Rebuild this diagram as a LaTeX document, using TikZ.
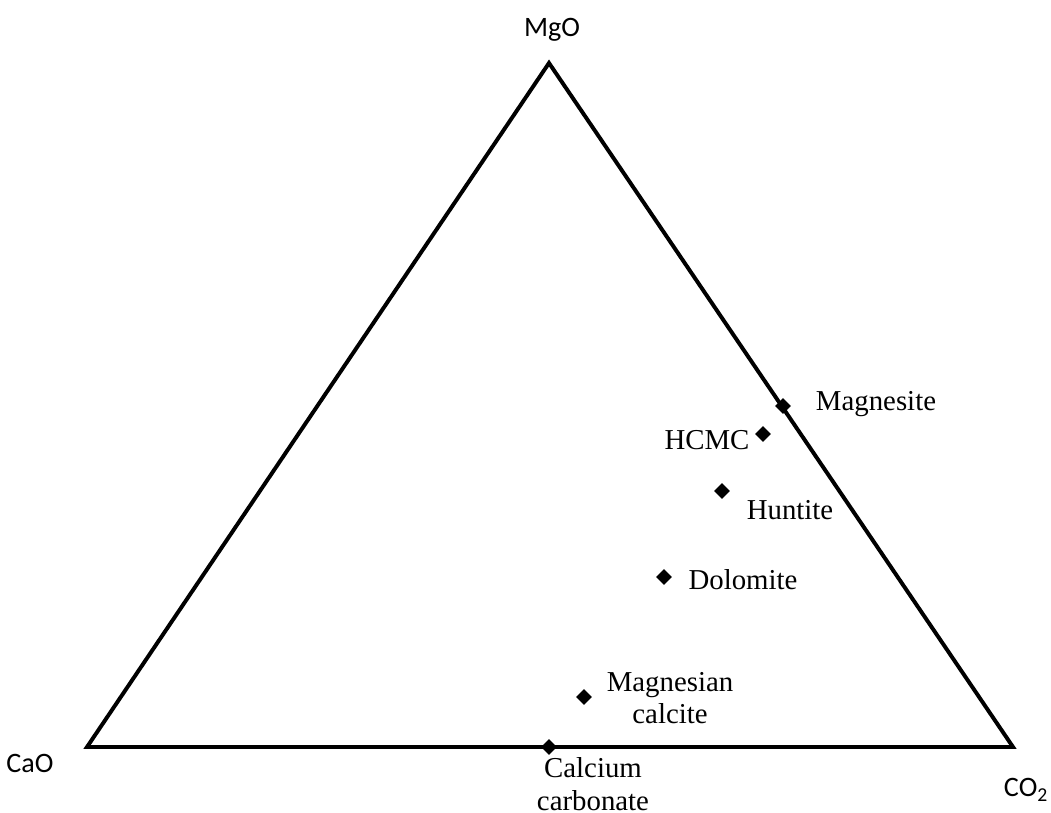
\documentclass[tikz,border=0pt]{standalone}
\usepackage{fontspec}
\setmainfont{Liberation Serif}
\setsansfont{Carlito}
\usetikzlibrary{shapes.geometric}

\begin{document}
\begin{tikzpicture}[x=0.025cm, y=-0.025cm,
    corner/.style={font=\sffamily\fontsize{20}{24}\selectfont},
    mineral/.style={fill=black, diamond, inner sep=0pt, minimum width=0.4cm, minimum height=0.4cm},
    lbl/.style={font=\fontsize{20.5}{23}\selectfont, align=center, inner sep=1pt},
    edge/.style={line width=2.8pt, line join=miter}
]
    \useasboundingbox (0,0) rectangle (1051,812);

    % corners of the ternary plot
    \coordinate (cao) at (87,747);
    \coordinate (co2) at (1013,747);
    \coordinate (mgo) at (549,63);
    \draw[edge] (cao) -- (co2) -- (mgo) -- cycle;

    \node[corner] (lmgo) at (552,30) {MgO};
    \node[corner] (lcao) at (30,763) {CaO};
    \node[corner] (lco2) at (1026,790) {CO\textsubscript{2}};

    % minerals
    \node[mineral] (magnesite) at (783,406) {};
    \node[mineral] (hcmc) at (763,434) {};
    \node[mineral] (huntite) at (722,491) {};
    \node[mineral] (dolomite) at (664,577) {};
    \node[mineral] (magcalc) at (584,697) {};
    \node[mineral] (caco3) at (549,747) {};

    \node[lbl] at (876,404) {Magnesite};
    \node[lbl] at (707,440) {HCMC};
    \node[lbl] at (790,510) {Huntite};
    \node[lbl] at (743,580) {Dolomite};
    \node[lbl] at (670,698) {Magnesian\\calcite};
    \node[lbl] at (593,784) {Calcium\\carbonate};
\end{tikzpicture}
\end{document}
